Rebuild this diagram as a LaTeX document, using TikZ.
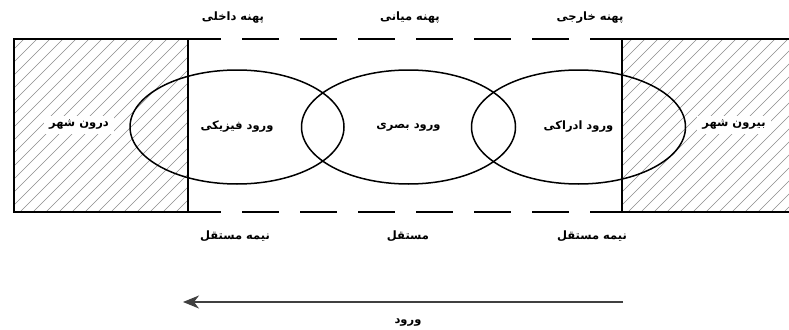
\documentclass[tikz,border=0pt]{standalone}
\usepackage{fontspec}
\usetikzlibrary{shapes.geometric,arrows.meta}
\TeXXeTstate=1
\newfontfamily\arabicfont[Script=Arabic]{DejaVu Sans}
\newcommand{\artxt}[1]{{\arabicfont\bfseries\beginR #1\endR}}
\begin{document}
\begin{tikzpicture}[x=1pt,y=-1pt,
  lbl/.style={font=\fontsize{11.5}{13}\selectfont, inner sep=1pt},
  citylbl/.style={lbl, fill=white, inner xsep=5pt, inner ysep=4pt},
  bordr/.style={line width=1.5pt, black},
  hatchline/.style={black!45, line width=0.6pt},
  ell/.style={draw, ellipse, line width=1.5pt, minimum width=214pt, minimum height=114pt, inner sep=0pt, font=\fontsize{11.5}{13}\selectfont},
  dsh/.style={line width=1.5pt, dash pattern=on 37pt off 21pt, dash phase=4pt},
  arr/.style={-{Stealth[length=16pt,width=13pt,inset=5pt]}, line width=1.6pt, black!75}]
\useasboundingbox (0,0) rectangle (789,329);
\fill[white] (0,0) rectangle (789,329);
\coordinate (LTL) at (14,39);
\coordinate (LTR) at (188,39);
\coordinate (LBL) at (14,212);
\coordinate (LBR) at (188,212);
\coordinate (RTL) at (622,39);
\coordinate (RTR) at (789,39);
\coordinate (RBL) at (622,212);
\coordinate (RBR) at (789,212);
% hatching
\begin{scope}
  \clip (LTL) rectangle (LBR);
  \foreach \i in {-162,-149,...,190} \draw[hatchline] (\i,212) -- ++(173,-173);
\end{scope}
\begin{scope}
  \clip (RTL) rectangle (RBR);
  \foreach \i in {446,459,...,800} \draw[hatchline] (\i,212) -- ++(173,-173);
\end{scope}
% ellipses
\node[ell] (physical) at (237,127) {\artxt{ورود فیزیکی}};
\node[ell] (visual) at (408.5,127) {\artxt{ورود بصری}};
\node[ell] (perceptual) at (578.5,127) {\artxt{ورود ادراکی}};
% borders
\draw[bordr] (LTL) rectangle (LBR);
\draw[bordr] (RTR) -- (RTL) -- (RBL) -- (RBR);
\draw[dsh] (LTR) -- (RTL);
\draw[dsh] (LBR) -- (RBL);
% city labels
\node[citylbl] (inside) at (79,125) {\artxt{درون شهر}};
\node[citylbl] (outside) at (734,125) {\artxt{بیرون شهر}};
% top labels
\node[lbl] (inner) at (233,18) {\artxt{پهنه داخلی}};
\node[lbl] (middle) at (410,18) {\artxt{پهنه میانی}};
\node[lbl] (outer) at (590,18) {\artxt{پهنه خارجی}};
% bottom labels
\node[lbl] (semi1) at (235,236) {\artxt{نیمه مستقل}};
\node[lbl] (indep) at (408,236) {\artxt{مستقل}};
\node[lbl] (semi2) at (592,236) {\artxt{نیمه مستقل}};
% arrow
\coordinate (AS) at (623,302);
\coordinate (AE) at (183,302);
\draw[arr] (AS) -- (AE);
\node[lbl] (entry) at (408,323) {\artxt{ورود}};
\end{tikzpicture}
\end{document}
